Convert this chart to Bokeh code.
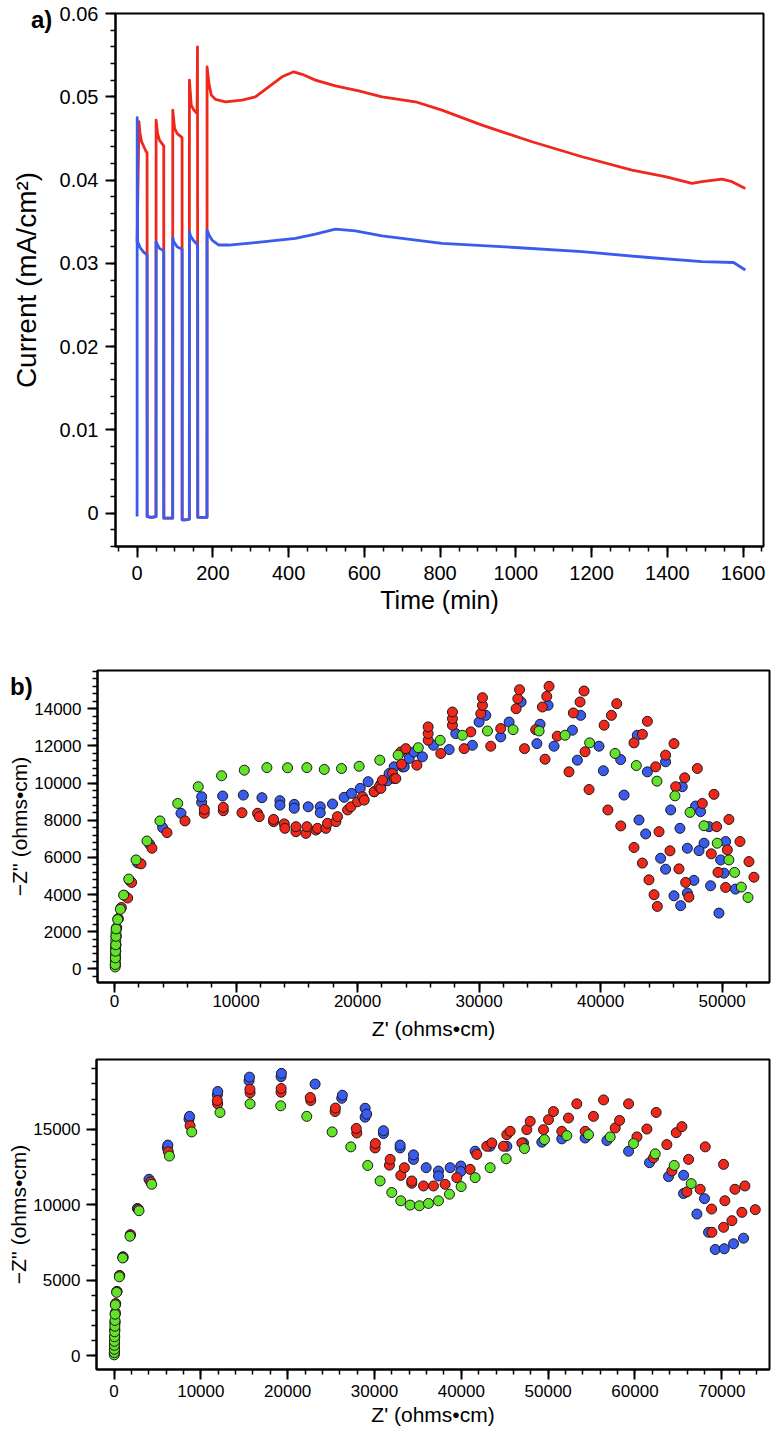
from bokeh.plotting import figure
from bokeh.layouts import column, row
from bokeh.models import (Range1d, FixedTicker, CustomJSTickFormatter,
                          NumeralTickFormatter, Div)
from bokeh.embed import file_html
from bokeh.resources import INLINE

FONT = "Liberation Sans"
RED = "#f0281c"
BLUE = "#3a5cee"
GREEN = "#62e228"

# ---------------- Panel a: chronoamperometry ----------------
time_blue = [0, 0.3, 1.5, 8, 16, 26.4, 26.6, 38, 50.0, 50.2, 52, 59, 70.4, 70.6, 82, 94.0,
             94.2, 97, 105.6, 118.8, 119, 128, 138.0, 138.2, 141, 147.8, 160.0, 160.2, 172,
             184.6, 184.8, 190, 198, 215.6, 242, 312, 418, 470.8, 523.6, 576.4, 646.8, 805,
             998.7, 1174.8, 1350.8, 1491.6, 1575, 1606]
current_blue = [-0.0004, 0.0475, 0.0326, 0.0319, 0.0314, 0.0310, -0.0004, -0.0005, -0.0004,
                0.0326, 0.0324, 0.0318, 0.0315, -0.0006, -0.0006, -0.0006, 0.0331, 0.0326,
                0.0320, 0.0317, -0.0008, -0.0008, -0.0007, 0.0338, 0.0333, 0.0328, 0.0322,
                -0.0005, -0.0005, -0.0005, 0.0340, 0.0334, 0.0328, 0.0322, 0.0322, 0.0325,
                0.0330, 0.0335, 0.0341, 0.0339, 0.0333, 0.0324, 0.0319, 0.0314, 0.0307,
                0.0302, 0.0301, 0.0292]

time_red = [0, 5, 8, 12, 24, 26.4, 26.6, 38, 50.0, 50.2, 54, 59, 70.4, 70.6, 82, 94.0, 94.2,
            99, 105.6, 118.8, 119, 128, 138.0, 138.2, 143, 150, 158.4, 159.5, 160.2, 172,
            184.6, 184.8, 190, 196, 206.8, 233.2, 277.2, 312.4, 347.6, 382.8, 413.6, 435.6,
            470.8, 523.6, 585.2, 646.8, 734.8, 805, 910.8, 1042.8, 1086.8, 1174.8, 1306.8,
            1394.7, 1465, 1491.6, 1544.4, 1570.8, 1606]
current_red = [0.0325, 0.0470, 0.0455, 0.0446, 0.0434, 0.0433, -0.0004, -0.0005, -0.0004,
               0.0472, 0.0456, 0.0448, 0.0441, -0.0006, -0.0006, -0.0006, 0.0484, 0.0462,
               0.0456, 0.0451, -0.0008, -0.0008, -0.0007, 0.0520, 0.0490, 0.0484, 0.0480,
               0.0560, -0.0005, -0.0005, -0.0005, 0.0536, 0.0515, 0.0502, 0.0497, 0.0494,
               0.0496, 0.0500, 0.0512, 0.0524, 0.0530, 0.0527, 0.0520, 0.0513, 0.0507,
               0.0500, 0.0494, 0.0484, 0.0466, 0.0446, 0.0440, 0.0428, 0.0412, 0.0404,
               0.0396, 0.0398, 0.0401, 0.0398, 0.0390]

a_xticks = [0, 200, 400, 600, 800, 1000, 1200, 1400, 1600]
a_yticks = [0, 0.01, 0.02, 0.03, 0.04, 0.05, 0.06]

# ---------------- Panel b (upper) Nyquist ----------------
b1_green_x = [55, 65, 75, 90, 105, 120, 60, 70, 80, 100, 115, 130, 260, 480, 750, 1170, 1770,
              2670, 3740, 5200, 6890, 8810, 10680, 12540, 14240, 15830, 17260, 18680, 20130,
              21830, 23340, 25000, 26800, 28630, 30690, 32800, 34940, 37080, 39100, 41190,
              42940, 44640, 46120, 47360, 48510, 49600, 50560, 51030, 51580, 52130]
b1_green_y = [100, 400, 770, 1120, 1520, 1950, 230, 590, 950, 1300, 1750, 2150, 2650, 3200,
              3970, 4830, 5860, 6880, 7960, 8900, 9800, 10390, 10690, 10830, 10820, 10830,
              10730, 10780, 10900, 11230, 11500, 11900, 12300, 12570, 12800, 12870, 12800,
              12570, 12160, 11590, 10940, 10100, 9310, 8420, 7700, 6760, 5860, 5190, 4400,
              3840]

b1_blue_x = [70, 80, 95, 110, 130, 160, 290, 520, 820, 1250, 1900, 2900, 3960, 5470, 7170,
             7170, 8900, 10600, 12130, 13610, 13610, 14790, 14790, 15940, 16930, 16930,
             17940, 18900, 19500, 20220, 20870, 21370, 21920, 22460, 22600, 23010, 23700,
             23840, 24250, 24660, 25340, 26250, 27540, 28080, 29450, 30000, 30550, 31780,
             32470, 33460, 34760, 35020, 35680, 36170, 37680, 38360, 38090, 39870, 40230,
             41650, 41930, 43160, 43710, 43020, 43850, 45350, 44940, 45350, 46040, 46590,
             45770, 46530, 46720, 47820, 47140, 47680, 47140, 48230, 48510, 49050, 48920,
             49880, 50150, 51100, 49740, 50290, 48100]
b1_blue_y = [230, 590, 950, 1300, 1750, 2200, 2700, 3250, 3950, 4750, 5700, 6700, 7600,
             8370, 8960, 9260, 9300, 9350, 9210, 9050, 8810, 8850, 8640, 8720, 8720, 8400,
             8870, 9230, 9440, 9710, 10070, 9530, 9940, 10120, 10510, 10870, 10870, 10870,
             11320, 11670, 11410, 12030, 11800, 12660, 12030, 13280, 13640, 12480, 13280,
             14360, 12120, 13160, 14180, 11980, 12840, 13640, 11230, 11980, 10660, 11260,
             9350, 8010, 7260, 12570, 10600, 11140, 5950, 5360, 3930, 3400, 8550, 7560,
             9800, 8760, 6490, 4760, 4080, 8460, 6760, 4470, 7650, 5860, 5150, 4290, 3000,
             6850, 6360]

b1_red_x = [80, 90, 105, 120, 140, 180, 310, 560, 1080, 1410, 2180, 3080, 4320, 5800, 7390,
            7390, 8950, 8950, 10490, 11770, 11910, 13090, 13090, 13970, 14020, 14930, 14930,
            15750, 15830, 16570, 16710, 17390, 17530, 18220, 18350, 19180, 19450, 20000,
            20410, 20550, 21370, 21780, 21920, 22050, 22880, 23010, 23150, 23560, 23620,
            23970, 24880, 25810, 25810, 25810, 26850, 27810, 27810, 27810, 28770, 29320,
            30140, 30280, 30280, 30960, 31780, 33050, 33190, 33330, 33740, 34660, 35210,
            35570, 35760, 35430, 36440, 37400, 37760, 38310, 38640, 39050, 38720, 40290,
            40890, 41330, 40600, 41660, 42750, 43440, 43850, 42750, 43440, 43980, 44400,
            44670, 44530, 45350, 46040, 44810, 45710, 46450, 47000, 47270, 46180, 46920,
            47960, 48370, 49330, 49550, 50560, 51470, 52210, 52620, 49110, 50430, 49660,
            50290]
b1_red_y = [230, 590, 950, 1300, 1750, 2200, 2700, 3300, 3810, 4650, 5650, 6490, 7330, 7960,
            8370, 8580, 8510, 8690, 8400, 8370, 8190, 7920, 8040, 7800, 7560, 7380, 7650,
            7290, 7650, 7470, 7560, 7560, 7830, 7920, 8190, 8550, 8720, 8990, 9260, 9080,
            9530, 9800, 9710, 10150, 10510, 10240, 10240, 11670, 11010, 11850, 10960, 12300,
            12660, 13020, 11590, 13110, 13460, 13820, 11850, 12750, 13730, 14180, 14590,
            11980, 12930, 14000, 14540, 15020, 11850, 12870, 14090, 14660, 15200, 11280,
            12520, 10600, 13770, 14360, 14950, 9650, 11680, 13110, 13640, 14270, 8550, 7690,
            12160, 12620, 13320, 6530, 5690, 4790, 3990, 3360, 10870, 11500, 12120, 7380,
            6350, 5380, 4650, 3860, 9800, 10280, 10780, 8900, 9390, 7650, 8040, 6850, 5770,
            4930, 6190, 6400, 5190, 4380]

b1_xticks = [0, 10000, 20000, 30000, 40000, 50000]
b1_yticks = [0, 2000, 4000, 6000, 8000, 10000, 12000, 14000]

# ---------------- Panel b (lower) Nyquist ----------------
b2_green_x = [30, 35, 40, 45, 55, 65, 80, 95, 110, 125, 150, 300, 610, 1000, 1840, 2880, 4340,
              6380, 8950, 12210, 15670, 19200, 22200, 25120, 27270, 29220, 30645, 31989,
              33026, 34101, 35177, 36214, 37366, 38633, 39977, 41590, 43318, 45161, 47273,
              49577, 52151, 54647, 57143, 59831, 62327, 64516, 66475]
b2_green_y = [50, 200, 420, 680, 950, 1250, 1580, 1950, 2330, 2740, 3360, 4190, 5220, 6470,
              7910, 9600, 11350, 13220, 14820, 16110, 16680, 16550, 15850, 14820, 13830,
              12600, 11572, 10805, 10256, 9971, 9928, 10081, 10256, 10695, 11199, 11791,
              12449, 13040, 13720, 14312, 14575, 14641, 14487, 14049, 13369, 12602, 11396]

b2_blue_x = [40, 50, 60, 75, 90, 110, 140, 180, 330, 640, 1030, 1880, 2690, 4030, 6140, 6200,
             8640, 8700, 11900, 11950, 15550, 15600, 19240, 19280, 23160, 26230, 26300, 28920,
             28920, 29100, 31030, 31030, 32950, 32950, 34490, 34490, 35950, 37370, 37370,
             38710, 39940, 39940, 41590, 43320, 45240, 47160, 49270, 51570, 54260, 56760,
             59260, 61670, 63860, 65590, 67130, 68470, 69240, 70280, 71350, 72500, 65600,
             68000]
b2_blue_y = [150, 450, 800, 1200, 1650, 2150, 2750, 3400, 4250, 5300, 6550, 8000, 9750, 11680,
             13760, 13950, 15670, 15850, 17270, 17500, 18210, 18450, 18480, 18700, 17990,
             17050, 17250, 16390, 15800, 16000, 14710, 14900, 13760, 13950, 13000, 13300,
             12450, 12230, 11900, 12450, 12560, 12200, 13540, 13870, 13870, 14090, 14140,
             14360, 14420, 14250, 13540, 12780, 11860, 10740, 9380, 8170, 7030, 7080, 7410,
             7780, 11950, 10400]

b2_red_x = [50, 60, 70, 85, 100, 125, 160, 200, 350, 660, 1050, 1900, 2800, 4220, 6260, 8760,
            11940, 11900, 15670, 15650, 19240, 19250, 22660, 22600, 25460, 25500, 27960,
            27900, 30070, 30100, 31720, 31800, 33030, 33440, 34290, 34290, 35640, 36790,
            38130, 39480, 41010, 41780, 42930, 43510, 44850, 45240, 45620, 46970, 47540,
            47930, 49460, 50040, 50610, 51570, 52340, 53300, 54260, 55220, 56380, 57720,
            58220, 59260, 60220, 61370, 62440, 62140, 63670, 64750, 65400, 64250, 66170,
            68090, 65980, 67510, 70200, 68820, 70350, 71510, 72660, 68860, 70200, 71160,
            72310, 73850]
b2_red_y = [200, 550, 900, 1300, 1750, 2250, 2850, 3450, 4250, 5300, 6500, 8000, 9700, 11510,
            13500, 15230, 16680, 16900, 17420, 17650, 17450, 17700, 16900, 17100, 16170,
            16400, 14750, 15050, 13760, 14050, 12620, 13000, 11940, 12450, 11420, 11570,
            11240, 11240, 11350, 11790, 12340, 13330, 13870, 14090, 13870, 14640, 14860,
            14090, 14970, 15520, 14970, 15630, 16170, 14860, 15740, 16680, 14860, 15850,
            16940, 15080, 15580, 16680, 14490, 15010, 16110, 13110, 13980, 14770, 15170,
            12230, 13000, 13830, 10850, 11020, 12670, 9710, 10260, 11020, 11240, 8170, 8500,
            8940, 9490, 9670]

b2_xticks = [0, 10000, 20000, 30000, 40000, 50000, 60000, 70000]
b2_yticks = [0, 5000, 10000, 15000]


def style(p, tick_px, title_px):
    for ax in (p.xaxis[0], p.yaxis[0]):
        ax.axis_line_width = 2
        ax.axis_line_color = "black"
        ax.major_tick_line_width = 2
        ax.minor_tick_line_width = 1.5
        ax.major_tick_line_color = "black"
        ax.minor_tick_line_color = "black"
        ax.major_tick_out = 10
        ax.major_tick_in = 0
        ax.minor_tick_out = 5
        ax.minor_tick_in = 0
        ax.major_label_text_font = FONT
        ax.major_label_text_font_size = f"{tick_px}px"
        ax.major_label_text_color = "black"
        ax.axis_label_text_font = FONT
        ax.axis_label_text_font_size = f"{title_px}px"
        ax.axis_label_text_font_style = "normal"
        ax.axis_label_text_color = "black"
    p.xgrid.visible = False
    p.ygrid.visible = False
    p.outline_line_color = "black"
    p.outline_line_width = 2
    p.outline_line_alpha = 1


def minor(lo, hi, step):
    out = []
    v = lo
    while v <= hi + 1e-9:
        out.append(round(v, 6))
        v += step
    return out


# ---- figure a
pa = figure(width=774, height=640, x_range=Range1d(-57, 1654), y_range=Range1d(-0.004, 0.06),
            output_backend="svg", toolbar_location=None,
            min_border_left=115, min_border_right=11, min_border_top=13, min_border_bottom=94)
style(pa, 20, 25)
pa.yaxis[0].axis_label_text_font_size = "28px"
pa.xaxis[0].ticker = FixedTicker(ticks=a_xticks, minor_ticks=minor(-50, 1650, 50))
pa.yaxis[0].ticker = FixedTicker(ticks=a_yticks, minor_ticks=minor(-0.004, 0.06, 0.002))
pa.yaxis[0].formatter = CustomJSTickFormatter(
    code="return Math.abs(tick) < 1e-9 ? '0' : tick.toFixed(2);")
pa.xaxis[0].axis_label = "Time (min)"
pa.yaxis[0].axis_label = "Current (mA/cm²)"
pa.xaxis[0].major_tick_out = 11
pa.xaxis[0].major_label_standoff = 8
pa.xaxis[0].axis_label_standoff = 3
pa.yaxis[0].major_label_standoff = 7
pa.yaxis[0].axis_label_standoff = 15
pa.line(time_red, current_red, line_color=RED, line_width=2.8, line_join="round")
pa.line(time_blue, current_blue, line_color=BLUE, line_width=2.8, line_join="round")


def nyquist(height, top, bottom, left, xr, yr, xt, xminor, yt, yminor):
    p = figure(width=774, height=height, x_range=Range1d(*xr), y_range=Range1d(*yr),
               output_backend="svg", toolbar_location=None,
               min_border_left=left, min_border_right=5, min_border_top=top,
               min_border_bottom=bottom)
    style(p, 17, 21)
    p.xaxis[0].ticker = FixedTicker(ticks=xt, minor_ticks=xminor)
    p.yaxis[0].ticker = FixedTicker(ticks=yt, minor_ticks=yminor)
    p.xaxis[0].formatter = NumeralTickFormatter(format="0")
    p.yaxis[0].formatter = NumeralTickFormatter(format="0")
    p.xaxis[0].axis_label = "Z' (ohms•cm)"
    p.yaxis[0].axis_label = "−Z'' (ohms•cm)"
    p.xaxis[0].major_label_standoff = 2
    p.xaxis[0].axis_label_standoff = 7
    p.yaxis[0].major_label_standoff = 6
    p.yaxis[0].axis_label_standoff = 0
    return p


pb1 = nyquist(409, 30, 67, 97, (-1400, 53900), (-735, 16054), b1_xticks, minor(0, 53000, 2000),
              b1_yticks, minor(-400, 16000, 400))
for xs, ys, col in ((b1_blue_x, b1_blue_y, BLUE), (b1_red_x, b1_red_y, RED),
                    (b1_green_x, b1_green_y, GREEN)):
    pb1.scatter(xs, ys, size=10, fill_color=col, line_color="#1a1a1a", line_width=1)

pb2 = nyquist(385, 10, 65, 96, (-2016, 75490), (-920, 19618), b2_xticks, minor(0, 74000, 2000),
              b2_yticks, minor(0, 19000, 1000))
pb2.xaxis[0].major_label_standoff = 5
pb2.xaxis[0].axis_label_standoff = 3
for xs, ys, col in ((b2_blue_x, b2_blue_y, BLUE), (b2_red_x, b2_red_y, RED),
                    (b2_green_x, b2_green_y, GREEN)):
    pb2.scatter(xs, ys, size=10, fill_color=col, line_color="#1a1a1a", line_width=1)


def panel_letter(text, left, top):
    return Div(text=text, width=30, height=28,
               styles={"position": "absolute", "left": f"{left}px", "top": f"{top}px",
                       "z-index": "10", "font-family": "Liberation Sans",
                       "font-size": "24px", "font-weight": "bold", "color": "black"})


label_a = panel_letter("a)", 26, -2)
label_b = panel_letter("b)", 5, 665)

layout = column(row(pa), row(pb1), row(pb2), label_a, label_b, spacing=0)
open("out.html", "w").write(file_html(layout, INLINE))
